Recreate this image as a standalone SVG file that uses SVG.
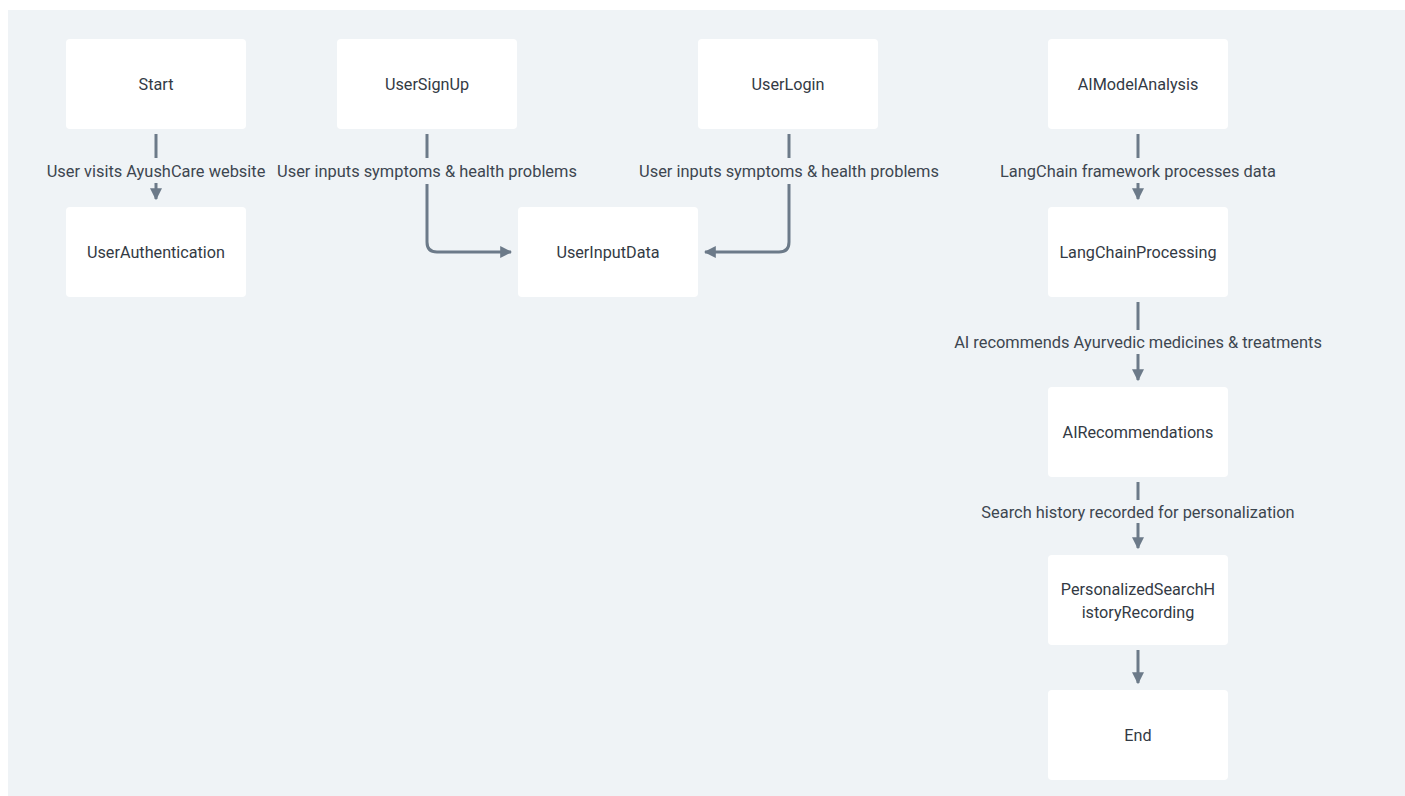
<svg xmlns="http://www.w3.org/2000/svg" width="1405" height="796" viewBox="0 0 1405 796">
<defs>
<style>
.bg{fill:#eff3f6}
.node rect{fill:#ffffff;rx:4;ry:4}
.node text{font-family:Roboto,"Noto Sans",sans-serif;font-size:16.2px;fill:#333a44;text-anchor:middle;dominant-baseline:central}
.edge{fill:none;stroke:#6c7a89;stroke-width:3}
.lbl{font-family:Roboto,"Noto Sans",sans-serif;font-size:16.4px;fill:#3d4650;text-anchor:middle;dominant-baseline:central}
</style>
<marker id="arr" viewBox="0 0 10 10" refX="9" refY="5" markerWidth="4" markerHeight="4" orient="auto" markerUnits="strokeWidth">
<path d="M0,0 L10,5 L0,10 z" fill="#6c7a89"/>
</marker>
</defs>
<rect class="bg" x="8" y="10" width="1397" height="786"/>
<g id="connectors">
<g id="e1"><path class="edge" d="M156,134 V158"/><path class="edge" d="M156,183 V199" marker-end="url(#arr)"/><text class="lbl" x="156" y="171">User visits AyushCare website</text></g>
<g id="e2"><path class="edge" d="M427,134 V158"/><path class="edge" d="M427,184 V242 Q427,252 437,252 H511" marker-end="url(#arr)"/><text class="lbl" x="427" y="171">User inputs symptoms &amp; health problems</text></g>
<g id="e3"><path class="edge" d="M789,134 V158"/><path class="edge" d="M789,184 V242 Q789,252 779,252 H705" marker-end="url(#arr)"/><text class="lbl" x="789" y="171">User inputs symptoms &amp; health problems</text></g>
<g id="e4"><path class="edge" d="M1138,134 V158"/><path class="edge" d="M1138,183 V199" marker-end="url(#arr)"/><text class="lbl" x="1138" y="171">LangChain framework processes data</text></g>
<g id="e5"><path class="edge" d="M1138,302 V330"/><path class="edge" d="M1138,354 V380" marker-end="url(#arr)"/><text class="lbl" x="1138" y="342">AI recommends Ayurvedic medicines &amp; treatments</text></g>
<g id="e6"><path class="edge" d="M1138,482 V500"/><path class="edge" d="M1138,523 V548" marker-end="url(#arr)"/><text class="lbl" x="1138" y="512">Search history recorded for personalization</text></g>
<g id="e7"><path class="edge" d="M1138,650 V683" marker-end="url(#arr)"/></g>
</g>
<g id="Start" class="node"><rect x="66" y="39" width="180" height="90"/><text x="156" y="84">Start</text></g>
<g id="UserSignUp" class="node"><rect x="337" y="39" width="180" height="90"/><text x="427" y="84">UserSignUp</text></g>
<g id="UserLogin" class="node"><rect x="698" y="39" width="180" height="90"/><text x="788" y="84">UserLogin</text></g>
<g id="AIModelAnalysis" class="node"><rect x="1048" y="39" width="180" height="90"/><text x="1138" y="84">AIModelAnalysis</text></g>
<g id="UserAuthentication" class="node"><rect x="66" y="207" width="180" height="90"/><text x="156" y="252">UserAuthentication</text></g>
<g id="UserInputData" class="node"><rect x="518" y="207" width="180" height="90"/><text x="608" y="252">UserInputData</text></g>
<g id="LangChainProcessing" class="node"><rect x="1048" y="207" width="180" height="90"/><text x="1138" y="252">LangChainProcessing</text></g>
<g id="AIRecommendations" class="node"><rect x="1048" y="387" width="180" height="90"/><text x="1138" y="432">AIRecommendations</text></g>
<g id="PersonalizedSearchHistoryRecording" class="node"><rect x="1048" y="555" width="180" height="90"/><text x="1138" y="589">PersonalizedSearchH</text><text x="1138" y="612">istoryRecording</text></g>
<g id="End" class="node"><rect x="1048" y="690" width="180" height="90"/><text x="1138" y="735">End</text></g>
</svg>
